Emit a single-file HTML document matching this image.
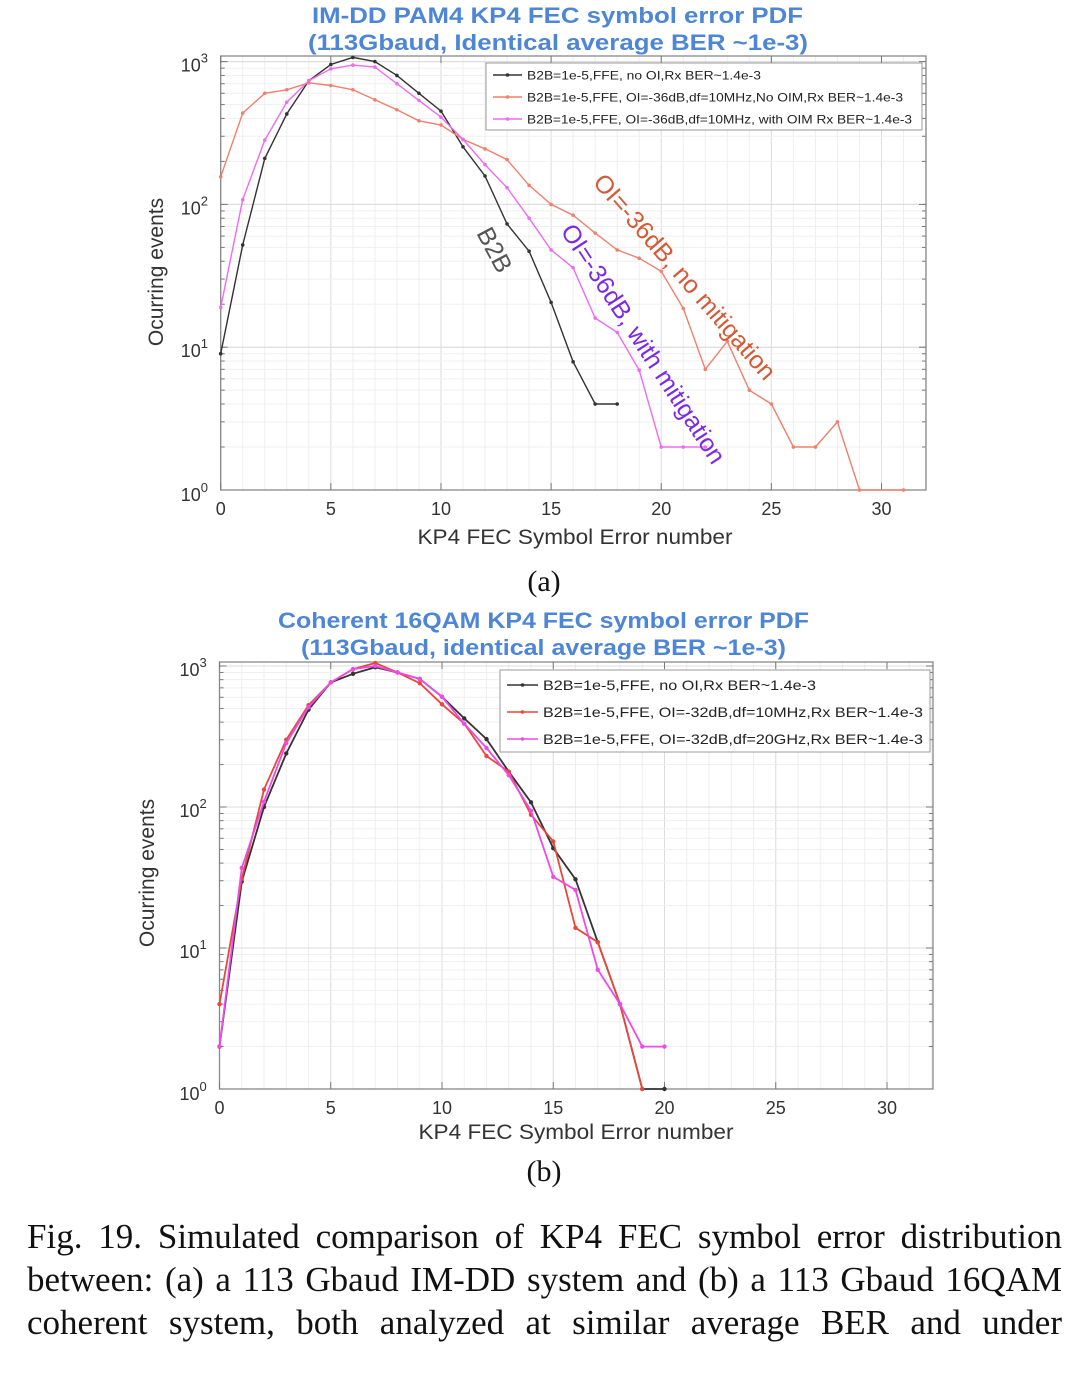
<!DOCTYPE html>
<html><head><meta charset="utf-8">
<style>
html,body{margin:0;padding:0;background:#fff;}
body{width:1080px;height:1373px;position:relative;overflow:hidden;font-family:"Liberation Sans",sans-serif;}
svg{position:absolute;left:0;top:0;}
.cap{position:absolute;left:27px;width:1035px;font-family:"Liberation Serif",serif;font-size:35px;line-height:43px;color:#111;text-align:justify;text-align-last:justify;white-space:nowrap;}
</style></head>
<body>
<svg id="fig" width="1080" height="1373"></svg>
<div class="cap" style="top:1215px">Fig. 19. Simulated comparison of KP4 FEC symbol error distribution</div>
<div class="cap" style="top:1258px">between: (a) a 113 Gbaud IM-DD system and (b) a 113 Gbaud 16QAM</div>
<div class="cap" style="top:1301px">coherent system, both analyzed at similar average BER and under</div>
<script>
// ---- Chart (a) data ----
const aBlackX = [0,1,2,3,4,5,6,7,8,9,10,11,12,13,14,15,16,17,18];
const aBlackY = [9,52,210,430,735,955,1070,1000,800,600,450,253,158,73,47,20.6,7.9,4,4];
const aRedX = [0,1,2,3,4,5,6,7,8,9,10,11,12,13,14,15,16,17,18,19,20,21,22,23,24,25,26,27,28,29,31];
const aRedY = [156,436,600,635,710,680,635,540,460,385,360,285,245,206,136,100,84,63,48,42,34,18.7,7,11,5,4,2,2,3,1,1];
const aMagX = [0,1,2,3,4,5,6,7,8,9,10,11,12,13,14,15,16,17,18,19,20,21,22];
const aMagY = [19,108,282,520,735,890,945,915,700,535,408,285,190,131,80,48,36,16,12.7,6.9,2,2,2];
const aLegend = ["B2B=1e-5,FFE, no OI,Rx BER~1.4e-3","B2B=1e-5,FFE, OI=-36dB,df=10MHz,No OIM,Rx BER~1.4e-3","B2B=1e-5,FFE, OI=-36dB,df=10MHz, with OIM Rx BER~1.4e-3"];
// ---- Chart (b) data ----
const bX = [0,1,2,3,4,5,6,7,8,9,10,11,12,13,14,15,16,17,18,19,20];
const bBlackY = [2,29.6,100,240,490,765,880,980,900,810,605,425,303,178,108,51,30.7,11,4,1,1];
const bRedX = [0,1,2,3,4,5,6,7,8,9,10,11,12,13,14,15,16,17,18,19];
const bRedY = [4,31,133,300,527,765,950,1050,900,755,535,390,230,178,88,57,13.9,11,4,1];
const bMagY = [2,37,109,284,510,765,950,1000,900,810,605,390,262,168,94,32,25.8,7,4,2,2];
const bLegend = ["B2B=1e-5,FFE, no OI,Rx BER~1.4e-3","B2B=1e-5,FFE, OI=-32dB,df=10MHz,Rx BER~1.4e-3","B2B=1e-5,FFE, OI=-32dB,df=20GHz,Rx BER~1.4e-3"];
const xTicks = [0,5,10,15,20,25,30];
const yDecades = [0,1,2,3];

const NS="http://www.w3.org/2000/svg";
const svg=document.getElementById('fig');
function mk(tag,attrs,parent,text){const e=document.createElementNS(NS,tag);for(const k in attrs)e.setAttribute(k,attrs[k]);if(text!==undefined)e.textContent=text;(parent||svg).appendChild(e);return e;}

function chart(cfg){
  const g=mk('g',{},svg);
  
  
  const sx=v=>cfg.L+(v-0)*(cfg.x30-cfg.L)/30;
  const sy=v=>cfg.y0-Math.log10(v)*cfg.dec;
  for(let x=0;x<=32;x++){const px=sx(x);if(px>cfg.R)break;
    const l=mk('line',{x1:px,x2:px,y1:cfg.T,y2:cfg.B,stroke:x%5===0?'#dcdcdc':'#efefef','stroke-width':1},g);
    }
  for(let d=0;d<4;d++)for(let m=1;m<=10;m++){const py=sy(m*Math.pow(10,d));if(py<cfg.T)continue;
    const l=mk('line',{x1:cfg.L,x2:cfg.R,y1:py,y2:py,stroke:m===1||m===10?'#dcdcdc':'#efefef','stroke-width':1},g);
    
    mk('line',{x1:cfg.L,x2:cfg.L+(m===1?7:4),y1:py,y2:py,stroke:'#777'},g);
    mk('line',{x1:cfg.R,x2:cfg.R-(m===1?7:4),y1:py,y2:py,stroke:'#777'},g);}
  const box=mk('rect',{x:cfg.L,y:cfg.T,width:cfg.R-cfg.L,height:cfg.B-cfg.T,fill:'none',stroke:'#888','stroke-width':1.3},g);
  
  xTicks.forEach(t=>{const px=sx(t);
    mk('line',{x1:px,x2:px,y1:cfg.B,y2:cfg.B-7,stroke:'#777'},g);mk('line',{x1:px,x2:px,y1:cfg.T,y2:cfg.T+7,stroke:'#777'},g);
    const tx=mk('text',{x:px,y:cfg.B+25,'font-size':18,'text-anchor':'middle',fill:'#333'},g,String(t));
    });
  yDecades.forEach(d=>{const py=sy(Math.pow(10,d));
    const tx=mk('text',{x:cfg.L-40,y:py+(d===0?11:10),'font-size':18,fill:'#333'},g);
    
    mk('tspan',{},tx,'10');mk('tspan',{dy:-9,'font-size':13},tx,String(d));});
  const xl=mk('text',{x:cfg.xlX,y:cfg.xlY,'font-size':21,'text-anchor':'middle',fill:'#333',textLength:315,lengthAdjust:'spacingAndGlyphs'},g,'KP4 FEC Symbol Error number');
  
  const yl=mk('text',{x:0,y:0,'font-size':21,'text-anchor':'middle',fill:'#333',transform:`translate(${cfg.ylX},${cfg.ylY}) rotate(-90)`},g,'Ocurring events');
  
  cfg.titles.forEach((t,i)=>{const tt=mk('text',{x:cfg.tL[i],y:cfg.tY+i*27,'font-size':22,'font-weight':'bold',fill:'#4d86d6',textLength:cfg.tW[i],lengthAdjust:'spacingAndGlyphs'},g,t);
    });
  cfg.series.forEach(s=>{
    const pts=s.x.map((x,i)=>sx(x).toFixed(1)+','+sy(s.y[i]).toFixed(1)).join(' ');
    const pl=mk('polyline',{points:pts,fill:'none',stroke:s.c,'stroke-width':s.w||1.4},g);
    
    s.x.forEach((x,i)=>{const c=mk('circle',{cx:sx(x),cy:sy(s.y[i]),r:s.r||1.8,fill:s.c},g);
      });
  });
  const lg=mk('g',{},g);
  
  mk('rect',{x:cfg.lg.x,y:cfg.lg.y,width:cfg.lg.w,height:cfg.lg.h,fill:'#fff',stroke:'#999','stroke-width':1},lg);
  cfg.legend.forEach((t,i)=>{const yy=cfg.lg.y+cfg.lg.first+i*cfg.lg.step;const s=cfg.series[i];
    const e=mk('g',{},lg);
    
    mk('line',{x1:cfg.lg.x+7,x2:cfg.lg.x+7+cfg.lg.seg,y1:yy,y2:yy,stroke:s.c,'stroke-width':1.4},e);
    mk('circle',{cx:cfg.lg.x+7+cfg.lg.seg/2,cy:yy,r:1.8,fill:s.c},e);
    mk('text',{x:cfg.lg.x+12+cfg.lg.seg,y:yy+cfg.lg.fs*0.36,'font-size':cfg.lg.fs,fill:'#222',textLength:cfg.lg.tw[i],lengthAdjust:'spacingAndGlyphs'},e,t);});
}

chart({name:'chart-a-im-dd',L:220.7,R:926,T:56,B:490,x30:881.5,y0:490,dec:142.8,
  xlX:575,xlY:544,ylX:163,ylY:272,tL:[312,308],tW:[491,500],tY:23,
  titles:['IM-DD PAM4 KP4 FEC symbol error PDF','(113Gbaud, Identical average BER ~1e-3)'],
  series:[{x:aBlackX,y:aBlackY,c:'#333',name:'series-b2b'},{x:aRedX,y:aRedY,c:'#f0806c',name:'series-oi-no-mitigation'},{x:aMagX,y:aMagY,c:'#ee6cf0',name:'series-oi-with-mitigation'}],
  legend:aLegend,lg:{x:486,y:63,w:436,h:67,first:12,step:22,seg:29,fs:12,tw:[234,376,385]}});

chart({name:'chart-b-coherent',L:219.5,R:933,T:662,B:1089,x30:887,y0:1089,dec:141,
  xlX:576,xlY:1139,ylX:154,ylY:873,tL:[278,301],tW:[531,485],tY:628,
  titles:['Coherent 16QAM KP4 FEC symbol error PDF','(113Gbaud, identical average BER ~1e-3)'],
  series:[{x:bX,y:bBlackY,c:'#333',name:'series-b2b',w:1.8,r:2.2},{x:bRedX,y:bRedY,c:'#e8473c',name:'series-oi-10mhz',w:1.8,r:2.2},{x:bX,y:bMagY,c:'#ee4ae8',name:'series-oi-20ghz',w:1.8,r:2.2}],
  legend:bLegend,lg:{x:500,y:670,w:430,h:82,first:15,step:27,seg:31,fs:14,tw:[273,380,380]}});

function ann(t,x,y,rot,col,name){const e=mk('text',{x:0,y:0,'font-size':25,fill:col,transform:`translate(${x},${y}) rotate(${rot})`},svg,t);
  }
ann('B2B',476,233,62,'#555','annotation-b2b');
ann('OI=-36dB, no mitigation',592,183,49,'#d45a36','annotation-no-mitigation');
ann('OI=-36dB, with  mitigation',560,231,57,'#7a2ae6','annotation-with-mitigation');
[['(a)',544,591,'subcaption-a'],['(b)',544,1181,'subcaption-b']].forEach(c=>{
  const e=mk('text',{x:c[1],y:c[2],'font-size':30,'text-anchor':'middle','font-family':'Liberation Serif, serif',fill:'#111'},svg,c[0]);
  });
</script>
</body></html>
